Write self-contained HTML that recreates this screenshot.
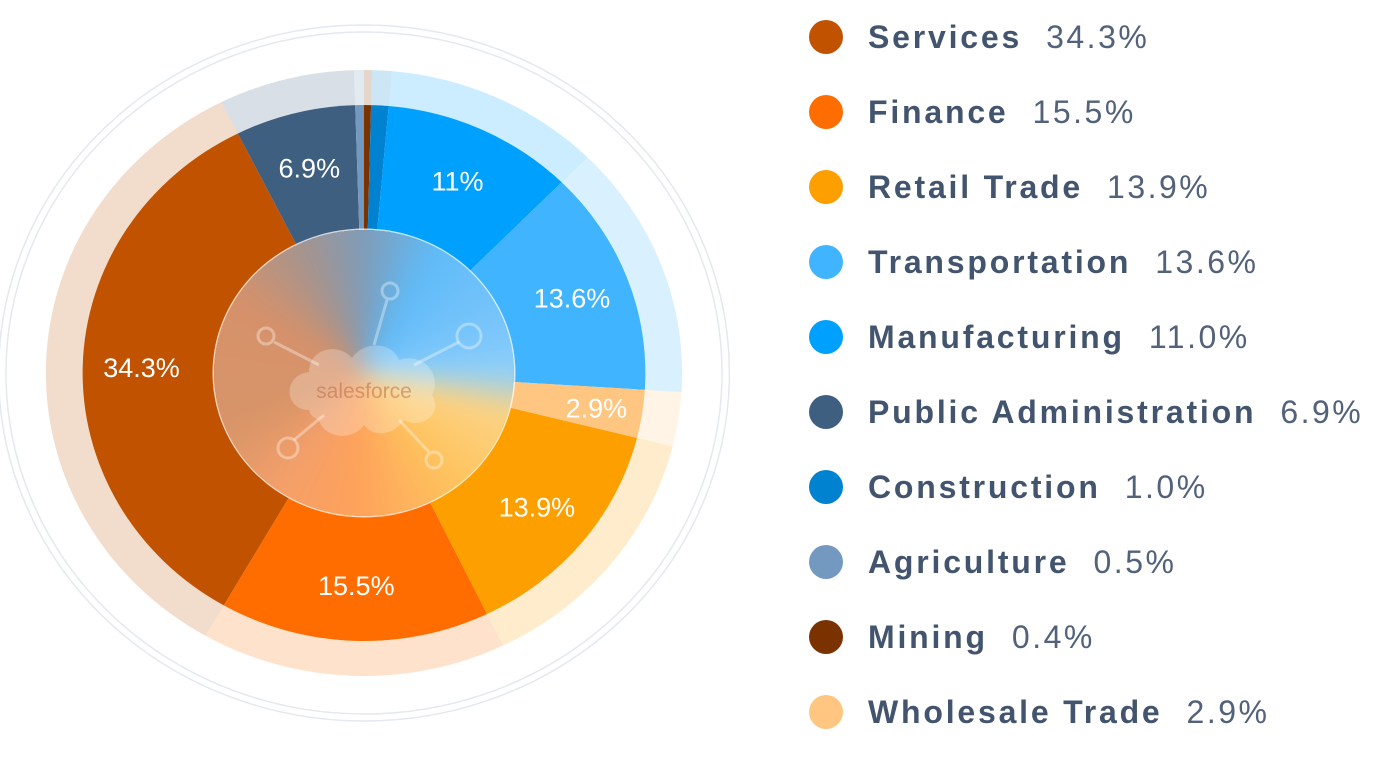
<!DOCTYPE html>
<html><head><meta charset="utf-8"><style>
html,body{margin:0;padding:0;background:#fff;width:1397px;height:770px;overflow:hidden;font-family:"Liberation Sans",sans-serif}
#chart{position:absolute;left:0;top:0}
#hub{position:absolute;left:214px;top:230px;width:300px;height:286px;border-radius:50%;overflow:hidden;box-shadow:0 0 0 1.5px rgba(255,255,255,.75)}
#hubbg{position:absolute;left:-30px;top:-30px;right:-30px;bottom:-30px;filter:blur(12px);background:conic-gradient(from 0deg,#7f9cb8 0deg,#5fbbf8 30deg,#7cc6fb 75deg,#8fd0fb 90deg,#fdd384 105deg,#fec35e 140deg,#fea15a 185deg,#f5a06a 215deg,#d79468 250deg,#d6916a 300deg,#a39490 335deg,#7f9cb8 360deg)}
#legend{position:absolute;left:0;top:0}
.row{position:absolute;left:809px;height:40px;display:flex;align-items:center;white-space:nowrap}
.dot{width:34px;height:34px;border-radius:50%;margin-right:25px}
.nm{font-weight:bold;font-size:32px;letter-spacing:2.8px;color:#43556e}
.vl{font-size:32px;letter-spacing:2.5px;color:#51627a;margin-left:24px}
</style></head><body>
<svg id="chart" width="730" height="770" viewBox="0 0 730 770"></svg>
<div id="hub"><div id="hubbg"></div>
<svg width="300" height="286" viewBox="0 0 300 286" style="position:absolute;left:0;top:0">
<g stroke="rgba(255,255,255,0.35)" stroke-width="3" fill="none">
<line x1="173" y1="70" x2="160" y2="115"/><circle cx="176" cy="61" r="8"/>
<line x1="245" y1="112" x2="200" y2="135"/><circle cx="255" cy="106" r="12"/>
<line x1="60" y1="112" x2="105" y2="135"/><circle cx="52" cy="106" r="8"/>
<line x1="80" y1="210" x2="110" y2="185"/><circle cx="74" cy="218" r="10"/>
<line x1="215" y1="222" x2="185" y2="190"/><circle cx="220" cy="230" r="8"/>
</g>
<path d="M95,180 C70,180 68,145 95,142 C95,118 125,112 138,128 C150,110 178,112 185,130 C210,122 228,145 218,165 C230,185 205,200 190,190 C180,205 160,208 150,195 C138,212 110,208 105,190 C100,188 96,185 95,180 Z" fill="rgba(255,255,255,0.25)"/>
<text x="150" y="168" text-anchor="middle" font-family="Liberation Sans, sans-serif" font-size="21" fill="rgba(190,110,70,0.55)">salesforce</text>
</svg></div>
<div id="legend"></div>
<script>
const categories=["Mining","Construction","Manufacturing","Transportation","Wholesale Trade","Retail Trade","Finance","Services","Public Administration","Agriculture"];
const values=[0.4,1.0,11.0,13.6,2.9,13.9,15.5,34.3,6.9,0.5];
const sliceLabels=["","","11%","13.6%","2.9%","13.9%","15.5%","34.3%","6.9%",""];
const colors=["#7a3300","#0082d1","#00a0fe","#40b4fe","#fec681","#fe9f00","#ff6d00","#c05200","#3f5f80","#7399c0"];
const legendOrder=["Services","Finance","Retail Trade","Transportation","Manufacturing","Public Administration","Construction","Agriculture","Mining","Wholesale Trade"];

const NS="http://www.w3.org/2000/svg";
const svg=document.getElementById('chart');
const cx=364,cy=373,sx=1.05,R=268,RB=303,RL=212;
const total=values.reduce((a,b)=>a+b,0);
function pt(a,r){return [cx+Math.sin(a)*r*sx, cy-Math.cos(a)*r];}
function arc(a0,a1,r0,r1){
  const large=(a1-a0)>Math.PI?1:0;
  const p0=pt(a0,r1),p1=pt(a1,r1);
  let d=`M${p0[0]},${p0[1]} A${r1*sx},${r1} 0 ${large} 1 ${p1[0]},${p1[1]} `;
  if(r0>0){const q1=pt(a1,r0),q0=pt(a0,r0);d+=`L${q1[0]},${q1[1]} A${r0*sx},${r0} 0 ${large} 0 ${q0[0]},${q0[1]} Z`;}
  else d+=`L${cx},${cy} Z`;
  return d;
}
[341,348].forEach((r,i)=>{
  const c=document.createElementNS(NS,'ellipse');
  c.setAttribute('cx',cx);c.setAttribute('cy',cy);c.setAttribute('rx',r*sx);c.setAttribute('ry',r);
  c.setAttribute('fill','none');c.setAttribute('stroke','#e3e9f0');c.setAttribute('stroke-width','1.5');
  
  
  svg.appendChild(c);
});
let acc=0;
values.forEach((v,i)=>{
  const a0=acc/total*2*Math.PI; acc+=v; const a1=acc/total*2*Math.PI;
  const band=document.createElementNS(NS,'path');
  band.setAttribute('d',arc(a0,a1,R,RB));band.setAttribute('fill',colors[i]);band.setAttribute('fill-opacity','0.2');
  
  
  svg.appendChild(band);
  const s=document.createElementNS(NS,'path');
  s.setAttribute('d',arc(a0,a1,0,R));s.setAttribute('fill',colors[i]);
  
  
  svg.appendChild(s);
});
acc=0;
values.forEach((v,i)=>{
  const am=(acc+v/2)/total*2*Math.PI; acc+=v;
  if(!sliceLabels[i])return;
  const p=pt(am,sliceLabels[i]==="2.9%"?224:RL);
  const t=document.createElementNS(NS,'text');
  t.setAttribute('x',p[0]);t.setAttribute('y',p[1]+10);t.setAttribute('text-anchor','middle');
  t.setAttribute('font-size','27');t.setAttribute('fill','#fff');t.setAttribute('font-family','Liberation Sans, sans-serif');
  t.textContent=sliceLabels[i];
  
  
  svg.appendChild(t);
});
const lg=document.getElementById('legend');
legendOrder.forEach((name,k)=>{
  const i=categories.indexOf(name);
  const row=document.createElement('div');row.className='row';row.style.top=(17+k*75)+'px';
  
  
  const d=document.createElement('div');d.className='dot';d.style.background=colors[i];
  
  
  const n=document.createElement('span');n.className='nm';n.textContent=name;
  
  
  const vl=document.createElement('span');vl.className='vl';vl.textContent=values[i].toFixed(1)+'%';
  
  
  row.appendChild(d);row.appendChild(n);row.appendChild(vl);lg.appendChild(row);
});
</script>
</body></html>
